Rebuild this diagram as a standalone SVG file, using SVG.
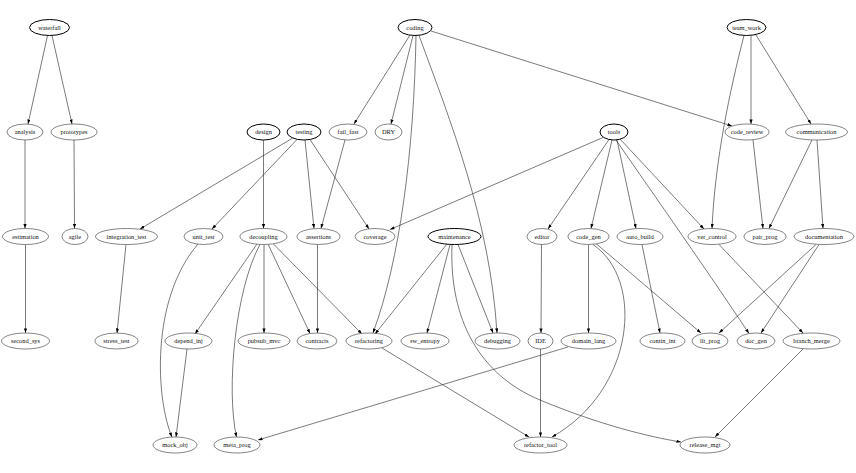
<svg xmlns="http://www.w3.org/2000/svg" width="856" height="473" viewBox="0 0 856 473">
<style>
.n ellipse{fill:#fff;stroke:#333;stroke-width:0.6}
.b ellipse{stroke:#000;stroke-width:1.0}
text{font-family:"Liberation Serif","Times New Roman",serif;font-size:6.4px;fill:#111;text-anchor:middle}
#edges path{fill:none;stroke:#222;stroke-width:0.6;marker-end:url(#ah)}
</style>
<defs>
<marker id="ah" viewBox="0 0 10 7" refX="10" refY="3.5" markerWidth="4.6" markerHeight="3.2" markerUnits="userSpaceOnUse" orient="auto">
<polygon points="0,0 10,3.5 0,7" fill="#000"/>
</marker>
</defs>
<rect width="856" height="473" fill="#fff"/>
<g id="edges">
<path d="M47.5,35.5 L28,124"/>
<path d="M52,35.5 L72,124"/>
<path d="M25,140 L25,228.5"/>
<path d="M25.5,244.5 L25.5,333"/>
<path d="M74,140 L74.5,228.5"/>
<path d="M410,35 L354,124"/>
<path d="M413,35.5 L391,124"/>
<path d="M416,35.5 C414,150 400,260 373,333"/>
<path d="M419,35.5 C450,120 490,220 497,333"/>
<path d="M431,31 L732,126"/>
<path d="M751,35.5 L751,124"/>
<path d="M756,35 L811,124"/>
<path d="M744,35.5 C730,90 715,160 712,228.5"/>
<path d="M263.5,140 L263.5,228.5"/>
<path d="M292,138.5 L140,229"/>
<path d="M297,139.5 L212,229"/>
<path d="M305,140 L314,228.5"/>
<path d="M310,139.5 L369,229"/>
<path d="M345,140 L321,228.5"/>
<path d="M603,137.5 L390,229.5"/>
<path d="M609,139.5 L548,229"/>
<path d="M612,140 L591,228.5"/>
<path d="M617,140 L636,228.5"/>
<path d="M620,139 L704,229"/>
<path d="M616,140 C640,175 700,260 749,333.5"/>
<path d="M753,140 L763,228.5"/>
<path d="M812,140 L769,228.5"/>
<path d="M817,140 L823,228.5"/>
<path d="M126,244.5 L117,333"/>
<path d="M198,244 C150,300 156,400 172,437"/>
<path d="M257,244 L195,334"/>
<path d="M260,244.5 C235,290 226,390 236.5,437"/>
<path d="M264,244.5 L264,333"/>
<path d="M268,244 L310,333.5"/>
<path d="M273,243.5 L362,334"/>
<path d="M317.5,244.5 L317.5,333"/>
<path d="M447,244 L375,334"/>
<path d="M450,244.5 L427,333"/>
<path d="M458,244.5 L493,333"/>
<path d="M452,245 C449,320 480,375 540,400 C600,425 650,437 681,442"/>
<path d="M541.5,244.5 L541,333"/>
<path d="M588.5,244.5 L588.5,333"/>
<path d="M596,243.5 L701,333"/>
<path d="M593,244.5 C645,280 635,390 552,437"/>
<path d="M642,244.5 L660,333"/>
<path d="M719,244.5 L803,333"/>
<path d="M816,244.5 L719,333"/>
<path d="M819,244.5 L761,333"/>
<path d="M187,349 L176,437"/>
<path d="M568,347 L258,440"/>
<path d="M382,348 L529,437"/>
<path d="M540.5,349 L540.5,437"/>
<path d="M803,349 L715,437"/>
</g>
<g id="waterfall" class="n b"><ellipse cx="49.5" cy="27.5" rx="20" ry="8"/><text x="49.5" y="29.7">waterfall</text></g>
<g id="coding" class="n b"><ellipse cx="415" cy="27.5" rx="17" ry="8"/><text x="415" y="29.7">coding</text></g>
<g id="team_work" class="n b"><ellipse cx="746.5" cy="27.5" rx="19.5" ry="8"/><text x="746.5" y="29.7">team_work</text></g>

<g id="analysis" class="n"><ellipse cx="25" cy="132" rx="18" ry="8"/><text x="25" y="134.2">analysis</text></g>
<g id="prototypes" class="n"><ellipse cx="74" cy="132" rx="23" ry="8"/><text x="74" y="134.2">prototypes</text></g>
<g id="design" class="n b"><ellipse cx="263.5" cy="132" rx="16.5" ry="8"/><text x="263.5" y="134.2">design</text></g>
<g id="testing" class="n b"><ellipse cx="304" cy="132" rx="17" ry="8"/><text x="304" y="134.2">testing</text></g>
<g id="fail_fast" class="n"><ellipse cx="348" cy="132" rx="19" ry="8"/><text x="348" y="134.2">fail_fast</text></g>
<g id="DRY" class="n"><ellipse cx="388.5" cy="132" rx="13.5" ry="8"/><text x="388.5" y="134.2">DRY</text></g>
<g id="tools" class="n b"><ellipse cx="614" cy="132" rx="14" ry="8"/><text x="614" y="134.2">tools</text></g>
<g id="code_review" class="n"><ellipse cx="747" cy="132" rx="22" ry="8"/><text x="747" y="134.2">code_review</text></g>
<g id="communication" class="n"><ellipse cx="816.5" cy="132" rx="31" ry="8"/><text x="816.5" y="134.2">communication</text></g>

<g id="estimation" class="n"><ellipse cx="25.5" cy="236.5" rx="23" ry="8"/><text x="25.5" y="238.7">estimation</text></g>
<g id="agile" class="n"><ellipse cx="75" cy="236.5" rx="13" ry="8"/><text x="75" y="238.7">agile</text></g>
<g id="integration_test" class="n"><ellipse cx="126.5" cy="236.5" rx="31" ry="8"/><text x="126.5" y="238.7">integration_test</text></g>
<g id="unit_test" class="n"><ellipse cx="203.5" cy="236.5" rx="19.5" ry="8"/><text x="203.5" y="238.7">unit_test</text></g>
<g id="decoupling" class="n"><ellipse cx="263.5" cy="236.5" rx="23.5" ry="8"/><text x="263.5" y="238.7">decoupling</text></g>
<g id="assertions" class="n"><ellipse cx="318.5" cy="236.5" rx="21.5" ry="8"/><text x="318.5" y="238.7">assertions</text></g>
<g id="coverage" class="n"><ellipse cx="375" cy="236.5" rx="20" ry="8"/><text x="375" y="238.7">coverage</text></g>
<g id="maintenance" class="n b"><ellipse cx="454.5" cy="236.5" rx="26.5" ry="8"/><text x="454.5" y="238.7">maintenance</text></g>
<g id="editor" class="n"><ellipse cx="542" cy="236.5" rx="15" ry="8"/><text x="542" y="238.7">editor</text></g>
<g id="code_gen" class="n"><ellipse cx="588.5" cy="236.5" rx="20.5" ry="8"/><text x="588.5" y="238.7">code_gen</text></g>
<g id="auto_build" class="n"><ellipse cx="640" cy="236.5" rx="23" ry="8"/><text x="640" y="238.7">auto_build</text></g>
<g id="ver_control" class="n"><ellipse cx="712" cy="236.5" rx="24" ry="8"/><text x="712" y="238.7">ver_control</text></g>
<g id="pair_prog" class="n"><ellipse cx="765" cy="236.5" rx="21" ry="8"/><text x="765" y="238.7">pair_prog</text></g>
<g id="documentation" class="n"><ellipse cx="824" cy="236.5" rx="30" ry="8"/><text x="824" y="238.7">documentation</text></g>

<g id="second_sys" class="n"><ellipse cx="25.5" cy="341" rx="24" ry="8"/><text x="25.5" y="343.2">second_sys</text></g>
<g id="stress_test" class="n"><ellipse cx="116.5" cy="341" rx="21.5" ry="8"/><text x="116.5" y="343.2">stress_test</text></g>
<g id="depend_inj" class="n"><ellipse cx="188.5" cy="341" rx="23.5" ry="8"/><text x="188.5" y="343.2">depend_inj</text></g>
<g id="pubsub_mvc" class="n"><ellipse cx="264" cy="341" rx="26" ry="8"/><text x="264" y="343.2">pubsub_mvc</text></g>
<g id="contracts" class="n"><ellipse cx="317" cy="341" rx="20" ry="8"/><text x="317" y="343.2">contracts</text></g>
<g id="refactoring" class="n"><ellipse cx="369" cy="341" rx="23" ry="8"/><text x="369" y="343.2">refactoring</text></g>
<g id="sw_entropy" class="n"><ellipse cx="425" cy="341" rx="24" ry="8"/><text x="425" y="343.2">sw_entropy</text></g>
<g id="debugging" class="n"><ellipse cx="497.5" cy="341" rx="22.5" ry="8"/><text x="497.5" y="343.2">debugging</text></g>
<g id="IDE" class="n"><ellipse cx="540.5" cy="341" rx="12.5" ry="8"/><text x="540.5" y="343.2">IDE</text></g>
<g id="domain_lang" class="n"><ellipse cx="588.5" cy="341" rx="27.5" ry="8"/><text x="588.5" y="343.2">domain_lang</text></g>
<g id="contin_int" class="n"><ellipse cx="662.5" cy="341" rx="22.5" ry="8"/><text x="662.5" y="343.2">contin_int</text></g>
<g id="lit_prog" class="n"><ellipse cx="710" cy="341" rx="18" ry="8"/><text x="710" y="343.2">lit_prog</text></g>
<g id="doc_gen" class="n"><ellipse cx="756" cy="341" rx="19" ry="8"/><text x="756" y="343.2">doc_gen</text></g>
<g id="branch_merge" class="n"><ellipse cx="811.5" cy="341" rx="28.5" ry="8"/><text x="811.5" y="343.2">branch_merge</text></g>

<g id="mock_obj" class="n"><ellipse cx="175" cy="445" rx="22" ry="8"/><text x="175" y="447.2">mock_obj</text></g>
<g id="meta_prog" class="n"><ellipse cx="237" cy="445" rx="23" ry="8"/><text x="237" y="447.2">meta_prog</text></g>
<g id="refactor_tool" class="n"><ellipse cx="540.5" cy="445" rx="26.5" ry="8"/><text x="540.5" y="447.2">refactor_tool</text></g>
<g id="release_mgt" class="n"><ellipse cx="705" cy="445" rx="25" ry="8"/><text x="705" y="447.2">release_mgt</text></g>
</svg>
